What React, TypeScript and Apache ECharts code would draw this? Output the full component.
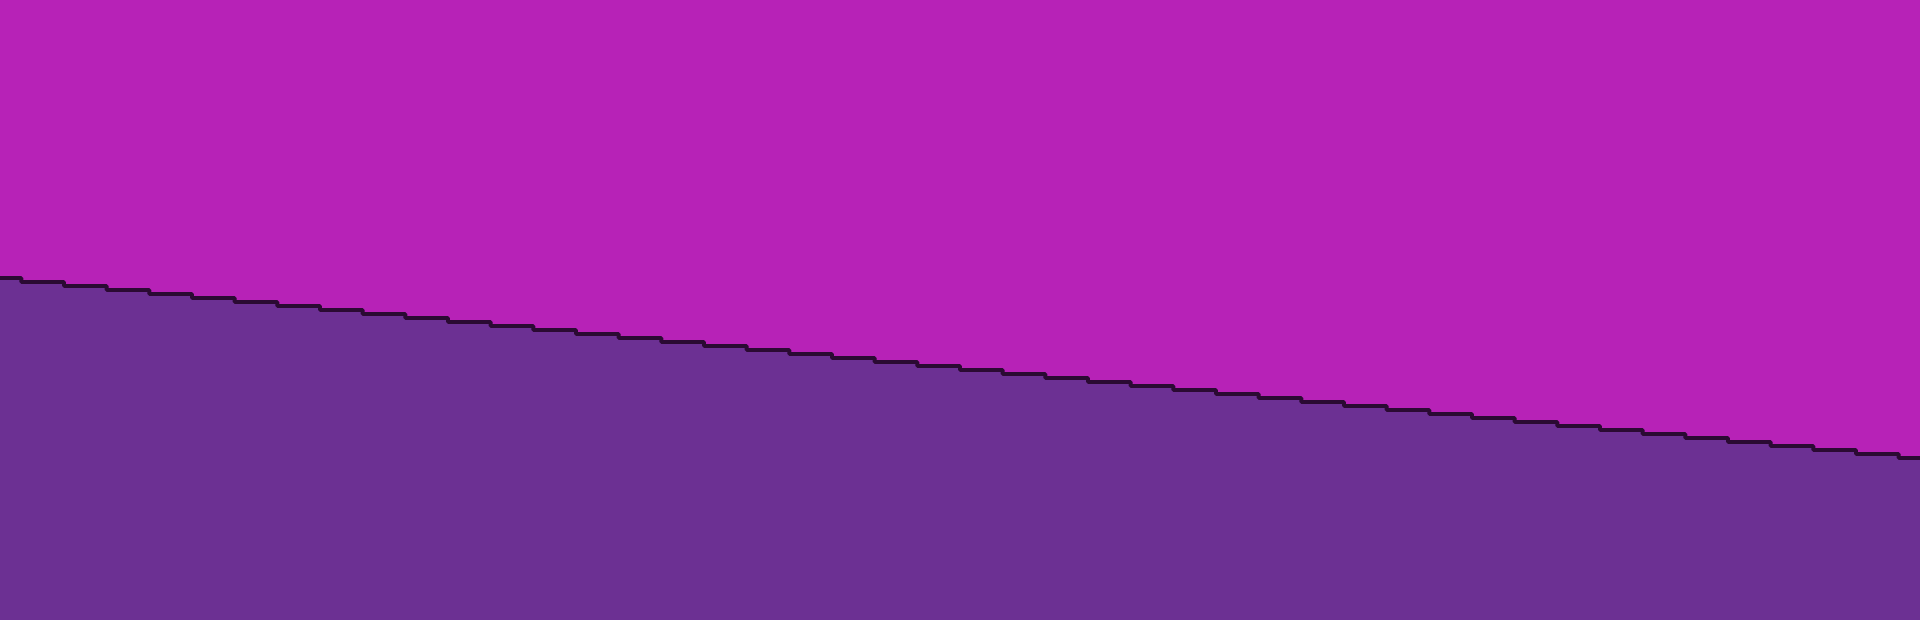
import { useEffect, useRef } from "react";
import * as echarts from "echarts";

// 46 category points, stepped boundary between two stacked bands
const categories = [
  "1", "2", "3", "4", "5", "6", "7", "8", "9", "10",
  "11", "12", "13", "14", "15", "16", "17", "18", "19", "20",
  "21", "22", "23", "24", "25", "26", "27", "28", "29", "30",
  "31", "32", "33", "34", "35", "36", "37", "38", "39", "40",
  "41", "42", "43", "44", "45", "46",
];

const lowerValues = [
  171, 169, 167, 165, 163, 161, 159, 157, 155, 153,
  151, 149, 147, 145, 143, 141, 139, 137, 135, 133,
  131, 129, 127, 125, 123, 121, 119, 117, 115, 113,
  111, 109, 107, 105, 103, 101, 99, 97, 95, 93,
  91, 89, 87, 85, 83, 81,
];

const upperValues = [
  139, 141, 143, 145, 147, 149, 151, 153, 155, 157,
  159, 161, 163, 165, 167, 169, 171, 173, 175, 177,
  179, 181, 183, 185, 187, 189, 191, 193, 195, 197,
  199, 201, 203, 205, 207, 209, 211, 213, 215, 217,
  219, 221, 223, 225, 227, 229,
];

const Y_MAX = 310;

export default function App() {
  const chartRef = useRef<HTMLDivElement>(null);

  useEffect(() => {
    if (!chartRef.current) return;
    const chart = echarts.init(chartRef.current, undefined, { renderer: "svg" });

    chart.setOption({
      animation: false,
      backgroundColor: "#b722b7",
      grid: { left: 0, right: 0, top: 0, bottom: 0 },
      xAxis: {
        type: "category",
        data: categories,
        boundaryGap: false,
        show: false,
      },
      yAxis: {
        type: "value",
        min: 0,
        max: Y_MAX,
        show: false,
      },
      series: [
        {
          name: "lower",
          type: "line",
          stack: "total",
          step: "middle",
          symbol: "none",
          data: lowerValues,
          lineStyle: { color: "#2b0a33", width: 4 },
          areaStyle: { color: "#6c3093", opacity: 1 },
        },
        {
          name: "upper",
          type: "line",
          stack: "total",
          step: "middle",
          symbol: "none",
          data: upperValues,
          lineStyle: { width: 0 },
          areaStyle: { color: "#b722b7", opacity: 1 },
          z: 1,
        },
      ],
    });

    return () => chart.dispose();
  }, []);

  return (
    <div
      ref={chartRef}
      style={{ position: "fixed", left: 0, top: 0, width: 1920, height: 620 }}
    />
  );
}
